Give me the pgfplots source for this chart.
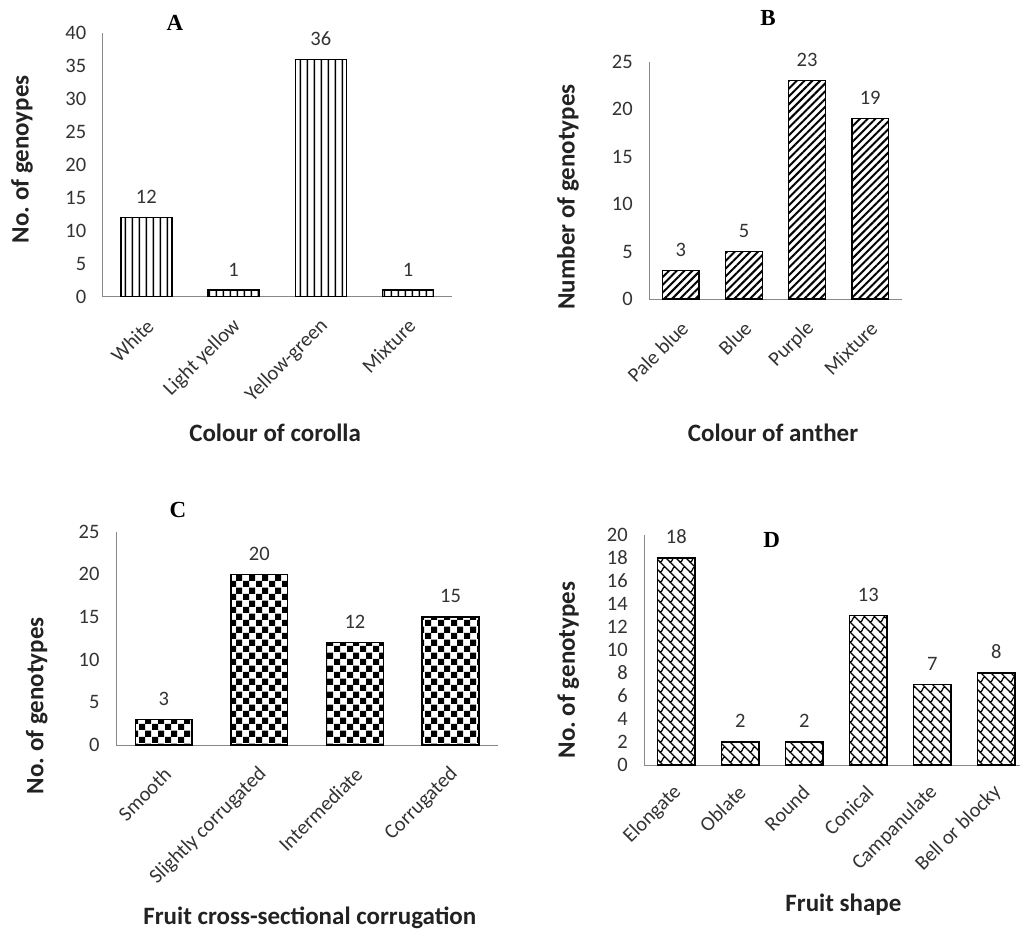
\documentclass[border=0pt]{standalone}
\usepackage{fontspec}
\setmainfont{Carlito}
\newfontfamily\titlefont{Liberation Serif}
\usepackage{pgfplots}
\pgfplotsset{compat=1.18}
\usetikzlibrary{patterns,patterns.meta}

\definecolor{axgray}{HTML}{898989}
\definecolor{tickgray}{HTML}{333333}
\definecolor{labgray}{HTML}{222222}

\pgfdeclarepatternformonly{mycheck}{\pgfpointorigin}{\pgfqpoint{12.6pt}{12.6pt}}{\pgfqpoint{12.6pt}{12.6pt}}{%
  \pgfpathrectangle{\pgfpointorigin}{\pgfqpoint{6.3pt}{6.3pt}}%
  \pgfpathrectangle{\pgfqpoint{6.3pt}{6.3pt}}{\pgfqpoint{6.3pt}{6.3pt}}%
  \pgfusepath{fill}}

\pgfdeclarepatternformonly{myvlines}{\pgfpointorigin}{\pgfqpoint{6.8pt}{300pt}}{\pgfqpoint{6.8pt}{300pt}}{%
  \pgfpathrectangle{\pgfqpoint{2.6pt}{0pt}}{\pgfqpoint{1.6pt}{300pt}}%
  \pgfusepath{fill}}

\pgfdeclarepatternformonly{myweave}{\pgfqpoint{-1pt}{-1pt}}{\pgfqpoint{11pt}{11pt}}{\pgfqpoint{10pt}{10pt}}{%
  \pgfsetlinewidth{1.2pt}%
  \pgfpathmoveto{\pgfqpoint{-1pt}{11pt}}\pgfpathlineto{\pgfqpoint{11pt}{-1pt}}%
  \pgfpathmoveto{\pgfqpoint{0pt}{0pt}}\pgfpathcurveto{\pgfqpoint{3pt}{0pt}}{\pgfqpoint{2pt}{5pt}}{\pgfqpoint{5pt}{5pt}}%
  \pgfusepath{stroke}}

\pgfplotsset{
  panel/.style={
    scale only axis,
    axis lines=left,
    axis line style={-, draw=axgray, line width=0.9pt},
    enlargelimits=false,
    ymin=0,
    ybar,
    tick style={draw=none},
    major tick length=0pt,
    /pgf/number format/assume math mode=true,
    ticklabel style={font=\fontsize{20.5}{24}\selectfont, text=tickgray},
    xticklabel style={xshift=4pt, yshift=-26pt, rotate=45, anchor=east, inner sep=0pt},
    yticklabel style={xshift=-13pt},
    label style={font=\bfseries\fontsize{25}{30}\selectfont, text=labgray},
    xlabel style={anchor=center},
    ylabel style={anchor=center},
    nodes near coords,
    nodes near coords style={font=\fontsize{20.5}{24}\selectfont, text=tickgray, yshift=10pt},
    clip=false,
  },
  barstyle/.style={draw=black, line width=1.5pt},
}

\begin{document}
\begin{tikzpicture}
\useasboundingbox (0pt,0pt) rectangle (1021pt,932pt);

% ---------- A ----------
\begin{axis}[panel,
  at={(102.7pt,635.3pt)}, anchor=south west,
  width=349pt, height=263.4pt,
  xmin=-0.5, xmax=3.5, ymax=40, ytick={0,5,...,40},
  xtick={0,1,2,3}, xticklabels={White, Light yellow, Yellow-green, Mixture},
  bar width=51pt,
  xlabel={Colour of corolla},
  xlabel style={at={(axis description cs:0.494,-0.517)}},
  ylabel={No.\ of genoypes},
  ylabel style={at={(axis description cs:-0.231,0.522)}},
]
\addplot[barstyle, pattern=myvlines] coordinates {(0,12) (1,1) (2,36) (3,1)};
\end{axis}

% ---------- B ----------
\begin{axis}[panel,
  at={(649.3pt,633pt)}, anchor=south west,
  width=252.4pt, height=237.3pt,
  xmin=-0.5, xmax=3.5, ymax=25, ytick={0,5,...,25},
  xtick={0,1,2,3}, xticklabels={Pale blue, Blue, Purple, Mixture},
  bar width=36.7pt,
  xlabel={Colour of anther},
  xlabel style={at={(axis description cs:0.49,-0.565)}},
  ylabel={Number of genotypes},
  ylabel style={at={(axis description cs:-0.322,0.43)}},
]
\addplot[barstyle, pattern={Lines[angle=45, distance=5.5pt, line width=2pt]}] coordinates {(0,3) (1,5) (2,23) (3,19)};
\end{axis}

% ---------- C ----------
\begin{axis}[panel,
  at={(116pt,187pt)}, anchor=south west,
  width=382.3pt, height=213.3pt,
  xmin=-0.5, xmax=3.5, ymax=25, ytick={0,5,...,25},
  xtick={0,1,2,3}, xticklabels={Smooth, Slightly corrugated, Intermediate, Corrugated},
  bar width=56.7pt,
  xlabel={Fruit cross-sectional corrugation},
  xlabel style={at={(axis description cs:0.507,-0.811)}},
  ylabel={No.\ of genotypes},
  ylabel style={at={(axis description cs:-0.207,0.184)}},
]
\addplot[barstyle, pattern=mycheck] coordinates {(0,3) (1,20) (2,12) (3,15)};
\end{axis}

% ---------- D ----------
\begin{axis}[panel,
  at={(644.3pt,167pt)}, anchor=south west,
  width=375.7pt, height=230pt,
  xmin=-0.5, xmax=5.37, ymax=20, ytick={0,2,...,20},
  xtick={0,1,2,3,4,5}, xticklabels={Elongate, Oblate, Round, Conical, Campanulate, Bell or blocky},
  xticklabel style={yshift=3pt},
  bar width=37.7pt,
  xlabel={Fruit shape},
  xlabel style={at={(axis description cs:0.53,-0.609)}},
  ylabel={No.\ of genotypes},
  ylabel style={at={(axis description cs:-0.202,0.413)}},
]
\addplot[barstyle, pattern=myweave] coordinates {(0,18) (1,2) (2,2) (3,13) (4,7) (5,8)};
\end{axis}

\node[font=\titlefont\bfseries\fontsize{23}{27}\selectfont] at (175pt,909pt) {A};
\node[font=\titlefont\bfseries\fontsize{23}{27}\selectfont] at (768pt,914pt) {B};
\node[font=\titlefont\bfseries\fontsize{23}{27}\selectfont] at (178pt,422pt) {C};
\node[font=\titlefont\bfseries\fontsize{23}{27}\selectfont] at (771.7pt,392pt) {D};
\end{tikzpicture}
\end{document}
